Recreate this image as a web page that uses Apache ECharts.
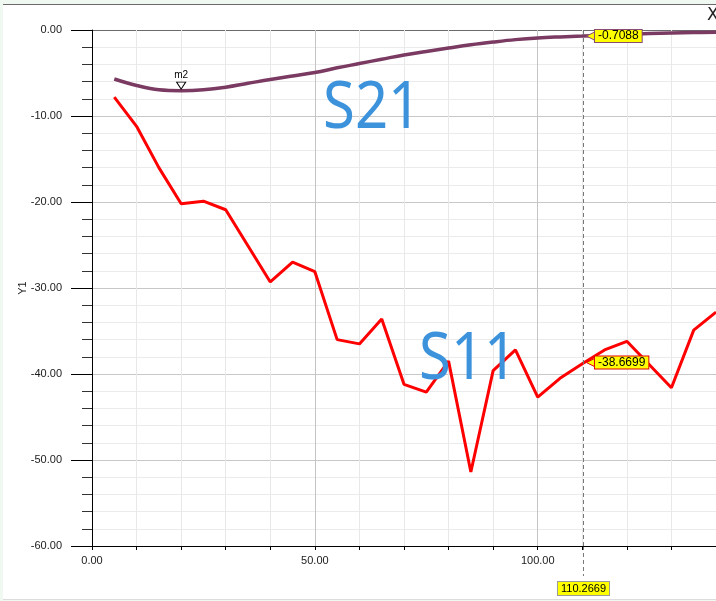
<!DOCTYPE html>
<html>
<head>
<meta charset="utf-8">
<script src="https://cdn.jsdelivr.net/npm/echarts@6/dist/echarts.min.js"></script>
<style>
html,body{margin:0;padding:0;background:#eff8f1;width:716px;height:601px;overflow:hidden;}
#topline{position:absolute;left:3px;top:4px;width:713px;height:1px;background:#6a6a6a;}
#botline{position:absolute;left:3px;top:599px;width:713px;height:1px;background:#dcdcdc;}
#chart{position:absolute;left:3px;top:5px;width:713px;height:594px;background:#ffffff;}
</style>
</head>
<body>
<div id="topline"></div>
<div id="chart"></div>
<div id="botline"></div>
<script>
// ---- data ----
const s21X = [5,10,15,20,25,30,35,40,45,50,55,60,65,70,75,80,85,90,95,100,105,110,115,120,125,130,135,140];
const s21Y = [-5.7,-6.45,-6.95,-7.05,-6.95,-6.65,-6.2,-5.75,-5.35,-4.95,-4.4,-3.9,-3.4,-2.9,-2.5,-2.1,-1.72,-1.4,-1.12,-0.92,-0.8,-0.71,-0.6,-0.5,-0.42,-0.35,-0.3,-0.26];
const s11X = [5,10,15,20,25,30,40,45,50,55,60,65,70,75,80,85,90,95,100,105,110,115,120,130,135,140];
const s11Y = [-7.8,-11.2,-16.0,-20.2,-19.9,-20.9,-29.3,-27.0,-28.1,-36.0,-36.5,-33.6,-41.2,-42.1,-38.5,-51.4,-39.6,-37.2,-42.7,-40.5,-38.8,-37.2,-36.2,-41.6,-34.9,-32.8];
const markerX = 110.2669;
const markerS21 = -0.7088;
const markerS11 = -38.6699;
const m2X = 20;
const m2Y = -7.05;
const m2Name = 'm2';
const yName = 'Y1';
const curveLabels = ['S21', 'S11'];

const FONT = '"Liberation Sans", Arial, sans-serif';
const chart = echarts.init(document.getElementById('chart'), null, {renderer: 'canvas'});

function pairs(xs, ys){ return xs.map((x,i)=>[x, ys[i]]); }

function markerLabel(value, border){
  return {
    coord: [markerX, value],
    symbol: 'path://M0,5 L10,0 L10,10 Z',
    symbolSize: [8, 8],
    symbolOffset: [7, 0],
    itemStyle: {color: '#ffff00', borderColor: border, borderWidth: 1},
    label: {
      show: true, position: 'right', distance: 0,
      formatter: value.toFixed(4),
      backgroundColor: '#ffff00', borderColor: border, borderWidth: 1,
      padding: [1, 3, 0, 3], color: '#000', fontSize: 12, fontFamily: FONT, lineHeight: 11
    }
  };
}

const option = {
  animation: false,
  backgroundColor: '#ffffff',
  grid: {left: 89, top: 25, right: 0, bottom: 53, outerBoundsMode: 'none', containLabel: false},
  xAxis: {
    type: 'value', min: 0, max: 140, interval: 10,
    axisLine: {show: true, onZero: false, lineStyle: {color: '#000', width: 1}},
    axisTick: {show: true, length: 4, lineStyle: {color: '#000'}},
    axisLabel: {
      margin: 9, color: '#1a1a1a', fontSize: 11, fontFamily: FONT,
      formatter: v => (v % 50 === 0 ? v.toFixed(2) : '')
    },
    splitLine: {show: true, lineStyle: {color: ['#c4c4c4','#e8e8e8','#e8e8e8','#e8e8e8','#e8e8e8'], width: 1}}
  },
  yAxis: {
    type: 'value', min: -60, max: 0, interval: 10,
    name: yName, nameLocation: 'middle', nameGap: 64, nameRotate: 90,
    nameMoveOverlap: false,
    nameTextStyle: {color: '#1a1a1a', fontSize: 11, fontFamily: FONT},
    axisLine: {show: true, onZero: false, lineStyle: {color: '#000', width: 1}},
    axisTick: {show: true, length: 21, lineStyle: {color: '#000'}},
    minorTick: {show: true, splitNumber: 5, length: 10, lineStyle: {color: '#333'}},
    axisLabel: {
      margin: 30, color: '#1a1a1a', fontSize: 11, fontFamily: FONT,
      formatter: v => v.toFixed(2)
    },
    splitLine: {show: true, lineStyle: {color: ['#c8c8c8','#c8c8c8','#c8c8c8','#c8c8c8','#c8c8c8','#c8c8c8','#6a6a6a'], width: 1}},
    minorSplitLine: {show: true, lineStyle: {color: '#ebebeb', width: 1}}
  },
  series: [
    {
      name: 'S21', type: 'line', data: pairs(s21X, s21Y), smooth: 0.4,
      showSymbol: false, clip: true,
      lineStyle: {color: '#7a3a62', width: 3.5},
      itemStyle: {color: '#7a3a62'},
      markPoint: {
        silent: true,
        data: [
          {
            coord: [m2X, m2Y],
            symbol: 'path://M0,0 L10,0 L5,8 Z', symbolSize: [9, 7], symbolOffset: [0, -5],
            itemStyle: {color: '#ffffff', borderColor: '#000', borderWidth: 1},
            label: {show: true, formatter: m2Name, position: 'top', distance: 1, fontSize: 10, color: '#000', fontFamily: FONT}
          },
          markerLabel(markerS21, '#8a4a72')
        ]
      },
      z: 3
    },
    {
      name: 'S11', type: 'line', data: pairs(s11X, s11Y),
      showSymbol: false, clip: true,
      lineStyle: {color: '#ff0000', width: 3},
      itemStyle: {color: '#ff0000'},
      markPoint: {silent: true, data: [markerLabel(markerS11, '#e00000')]},
      markLine: {
        silent: true, symbol: 'none',
        lineStyle: {color: '#777', type: [4, 3], width: 1},
        label: {
          show: true, position: 'start', distance: 36,
          formatter: markerX.toFixed(4),
          backgroundColor: '#ffff00', borderColor: '#9a9a9a', borderWidth: 1,
          padding: [1, 3, 0, 3], color: '#000', fontSize: 11, fontFamily: FONT, lineHeight: 12
        },
        data: [{xAxis: markerX}]
      },
      z: 2
    }
  ]
};
chart.setOption(option);

const pBottom = chart.convertToPixel({gridIndex: 0}, [markerX, -60]);
chart.setOption({
  graphic: [
    {type: 'line', id: 'ext', shape: {x1: pBottom[0], y1: pBottom[1], x2: pBottom[0], y2: pBottom[1] + 30},
     style: {stroke: '#777', lineWidth: 1, lineDash: [4, 3]}, silent: true},
    {type: 'text', id: 't21', x: 320, y: 104, scaleX: 0.88,
     style: {text: curveLabels[0], font: '66px "Noto Sans"', fill: '#3c93dc', verticalAlign: 'middle'}, silent: true, z: 10},
    {type: 'text', id: 't11', x: 416, y: 355, scaleX: 0.88,
     style: {text: curveLabels[1], font: '66px "Noto Sans"', fill: '#3c93dc', verticalAlign: 'middle'}, silent: true, z: 10},
    {type: 'text', id: 'close', x: 704, y: 2,
     style: {text: 'X', font: '17px "DejaVu Sans"', fill: '#222'}, silent: true}
  ]
});
</script>
</body>
</html>
